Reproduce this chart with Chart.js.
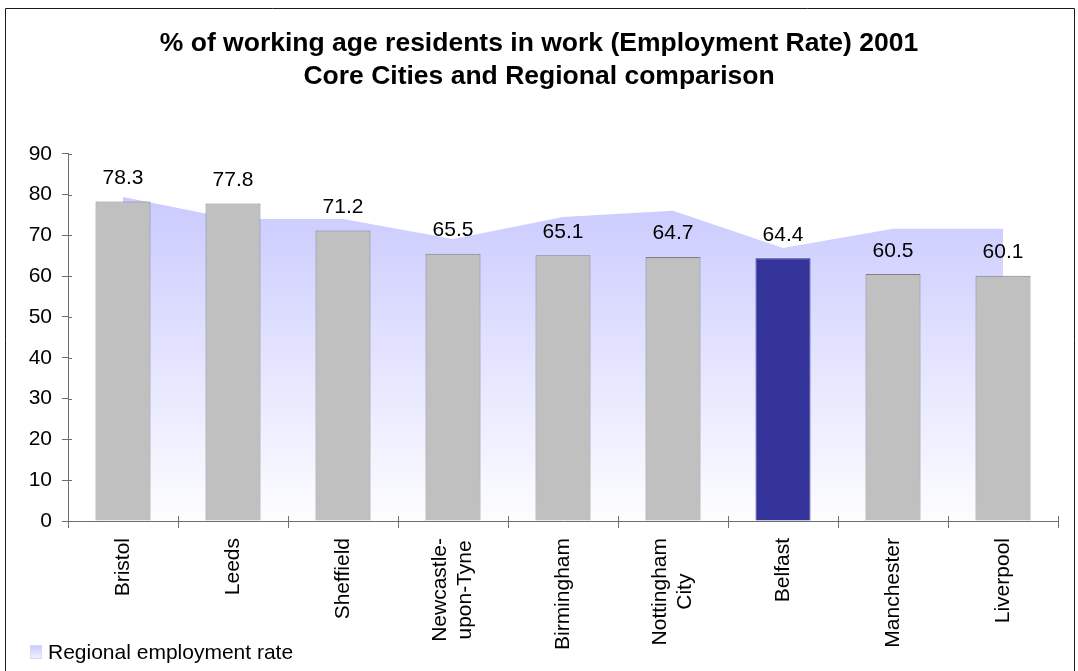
<!DOCTYPE html>
<html>
<head>
<meta charset="utf-8">
<title>Employment Rate 2001</title>
<script src="https://cdn.jsdelivr.net/npm/chart.js@4.4.1/dist/chart.umd.min.js"></script>
<style>
  html, body { margin: 0; padding: 0; background: #fff; }
  #wrap { width: 1078px; height: 671px; }
</style>
</head>
<body>
<div id="wrap"><canvas id="myChart" width="1078" height="671"></canvas></div>
<script>
// city names, split where the label wraps
const cities = [["Bristol"], ["Leeds"], ["Sheffield"], ["Newcastle-", "upon-Tyne"], ["Birmingham"],
                ["Nottingham", "City"], ["Belfast"], ["Manchester"], ["Liverpool"]];
// employment rate of each city (bars)
const employmentRate = [78.3, 77.8, 71.2, 65.5, 65.1, 64.7, 64.4, 60.5, 60.1];
// employment rate of the surrounding region (shaded area)
const regionalRate = [79.4, 74.0, 74.0, 69.1, 74.5, 76.0, 66.9, 71.6, 71.6];
const yMin = 0, yMax = 90, yStep = 10;
const highlightCity = "Belfast";

const FONT = "'Liberation Sans', Arial, sans-serif";
const AXIS = "#6e6e6e";

Chart.defaults.font.family = FONT;
Chart.defaults.color = "#000";

// frame, axis labels, value labels and legend
const extras = {
    id: "extras",
    beforeDraw(chart) {
        const ctx = chart.ctx;
        ctx.save();
        ctx.fillStyle = "#fff";
        ctx.fillRect(0, 0, chart.width, chart.height);
        ctx.strokeStyle = "#1a1a1a";
        ctx.lineWidth = 1;
        ctx.beginPath();
        ctx.moveTo(5.5, chart.height);
        ctx.lineTo(5.5, 8.5);
        ctx.lineTo(1074.5, 8.5);
        ctx.lineTo(1074.5, chart.height);
        ctx.stroke();
        ctx.restore();
    },
    afterDatasetsDraw(chart) {
        const ctx = chart.ctx;
        const meta = chart.getDatasetMeta(0);
        ctx.save();
        ctx.font = "21px " + FONT;
        ctx.fillStyle = "#000";
        ctx.textAlign = "center";
        ctx.textBaseline = "alphabetic";
        meta.data.forEach((bar, i) => {
            ctx.fillText(employmentRate[i].toFixed(1), bar.x, bar.y - 17.5);
        });
        ctx.restore();
    },
    afterDraw(chart) {
        const ctx = chart.ctx;
        const x = chart.scales.x, y = chart.scales.y;
        ctx.save();

        // short inner part of the tick marks
        ctx.strokeStyle = AXIS;
        ctx.lineWidth = 1;
        ctx.beginPath();
        y.ticks.forEach((t, i) => {
            const py = Math.round(y.getPixelForTick(i)) + 0.5;
            ctx.moveTo(x.left, py);
            ctx.lineTo(x.left + 4, py);
        });
        for (let i = 0; i <= cities.length; i++) {
            const px = Math.round(x.getPixelForValue(i - 0.5)) + 0.5;
            ctx.moveTo(px, y.bottom);
            ctx.lineTo(px, y.bottom - 5);
        }
        ctx.stroke();

        // rotated category labels, lines centred on each other
        ctx.font = "21px " + FONT;
        ctx.fillStyle = "#000";
        ctx.textAlign = "center";
        ctx.textBaseline = "middle";
        cities.forEach((lines, i) => {
            const px = x.getPixelForValue(i);
            const w = Math.max(...lines.map(l => ctx.measureText(l).width));
            ctx.save();
            ctx.translate(px, y.bottom + 17);
            ctx.rotate(-Math.PI / 2);
            lines.forEach((l, j) => {
                ctx.fillText(l, -w / 2, (j - (lines.length - 1) / 2) * 25);
            });
            ctx.restore();
        });

        // legend entry for the regional area
        const area = chart.data.datasets[1];
        const g = ctx.createLinearGradient(0, 645, 0, 659);
        g.addColorStop(0, "#c8c8ff");
        g.addColorStop(1, "#f4f4ff");
        ctx.fillStyle = g;
        ctx.fillRect(30, 645, 12, 14);
        ctx.strokeStyle = "#d8d8f4";
        ctx.strokeRect(30.5, 645.5, 11, 13);
        ctx.fillStyle = "#000";
        ctx.textAlign = "left";
        ctx.textBaseline = "alphabetic";
        ctx.fillText(area.label, 48, 658.5);
        ctx.restore();
    }
};

const ctx = document.getElementById("myChart").getContext("2d");
new Chart(ctx, {
    type: "bar",
    data: {
        labels: cities,
        datasets: [{
            label: "Employment rate",
            data: employmentRate,
            backgroundColor: cities.map(c => c[0] === highlightCity ? "#333399" : "#c0c0c0"),
            borderColor: cities.map(c => c[0] === highlightCity ? "#2a2a86" : "#808080"),
            borderWidth: 1,
            barPercentage: 0.5,
            categoryPercentage: 1.0,
            order: 1
        }, {
            type: "line",
            label: "Regional employment rate",
            data: regionalRate,
            fill: "origin",
            tension: 0,
            borderWidth: 0,
            pointRadius: 0,
            backgroundColor(c) {
                const chart = c.chart;
                if (!chart.chartArea) return "#d0d0ff";
                const y = chart.scales.y;
                const grad = chart.ctx.createLinearGradient(0, y.getPixelForValue(Math.max(...regionalRate)), 0, y.getPixelForValue(0));
                grad.addColorStop(0, "#cacaff");
                grad.addColorStop(1, "#fdfdff");
                return grad;
            },
            order: 2
        }]
    },
    options: {
        responsive: false,
        animation: false,
        devicePixelRatio: 1,
        layout: { padding: { left: 20, right: 20, top: 0, bottom: 0 } },
        plugins: {
            legend: { display: false },
            tooltip: { enabled: false },
            title: {
                display: true,
                text: ["% of working age residents in work (Employment Rate) 2001",
                       "Core Cities and Regional comparison"],
                font: { size: 26.5, weight: "bold", family: FONT, lineHeight: 1.24 },
                color: "#000",
                padding: { top: 27, bottom: 61 }
            }
        },
        scales: {
            x: {
                offset: true,
                grid: { offset: true, drawOnChartArea: false, tickLength: 7, color: AXIS },
                border: { color: AXIS },
                ticks: { display: false },
                afterFit(s) { s.height = 150; }
            },
            y: {
                min: yMin,
                max: yMax,
                ticks: { stepSize: yStep, font: { size: 21 }, color: "#000", padding: 10 },
                grid: { drawOnChartArea: false, tickLength: 6, color: AXIS },
                border: { color: AXIS },
                afterFit(s) { s.width = 48; }
            }
        }
    },
    plugins: [extras]
});
</script>
</body>
</html>
